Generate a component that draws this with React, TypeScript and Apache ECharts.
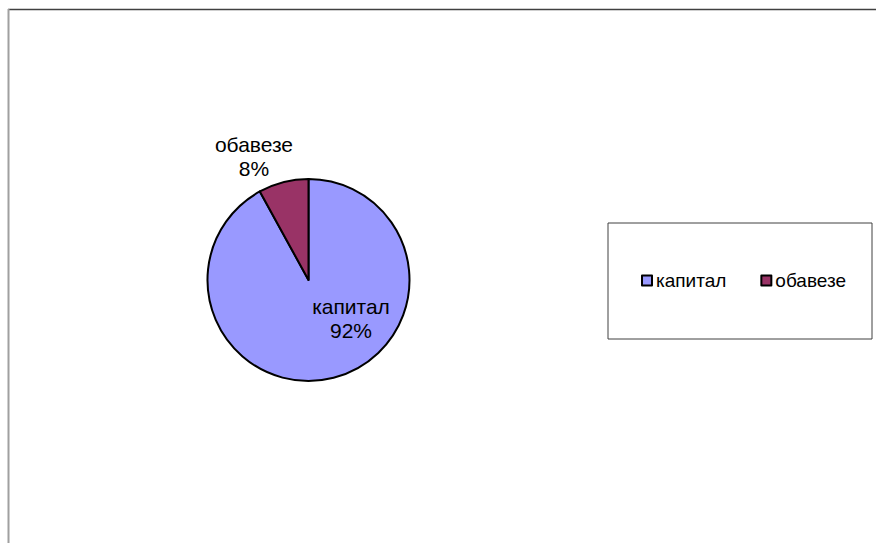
import React, { useEffect, useRef } from "react";
import * as echarts from "echarts";

const categories = ["капитал", "обавезе"];
const values = [92, 8];
const colors = ["#9999FF", "#993366"];
const labelCenters = [
  [351, 318],
  [254, 156],
];

const FONT = "'Liberation Sans', Arial, sans-serif";

export default function App() {
  const ref = useRef<HTMLDivElement>(null);
  useEffect(() => {
    document.body.style.margin = "0";
    const chart = echarts.init(ref.current!, null, { renderer: "svg" });
    chart.setOption({
      animation: false,
      backgroundColor: "#ffffff",
      textStyle: { fontFamily: FONT },
      graphic: [
        { type: "line", shape: { x1: 8, y1: 9.5, x2: 876, y2: 9.5 }, style: { stroke: "#404040", lineWidth: 1.5 } },
        { type: "line", shape: { x1: 8.5, y1: 9, x2: 8.5, y2: 543 }, style: { stroke: "#a0a0a0", lineWidth: 2 } },
      ],
      legend: {
        left: 608,
        top: 223,
        orient: "horizontal",
        data: categories,
        icon: "rect",
        itemWidth: 10,
        itemHeight: 10,
        itemGap: 34,
        padding: [48, 26, 49, 33],
        borderColor: "#404040",
        borderWidth: 1,
        borderRadius: 0,
        backgroundColor: "#ffffff",
        itemStyle: { borderColor: "#000", borderWidth: 2 },
        textStyle: { fontSize: 19, color: "#000", fontFamily: FONT, padding: [0, 0, 0, -1] },
      },
      series: [
        {
          type: "pie",
          center: [308.5, 280],
          radius: 101,
          startAngle: 90,
          clockwise: true,
          avoidLabelOverlap: false,
          itemStyle: { borderColor: "#000", borderWidth: 2 },
          label: {
            show: true,
            position: "inside",
            formatter: (p: any) => `${p.name}\n${Math.round(p.percent)}%`,
            fontSize: 21,
            lineHeight: 24,
            color: "#000",
            fontFamily: FONT,
            align: "center",
          },
          labelLine: { show: false },
          labelLayout: (p: any) => ({
            x: labelCenters[p.dataIndex][0],
            y: labelCenters[p.dataIndex][1],
            align: "center",
            verticalAlign: "middle",
          }),
          emphasis: { disabled: true },
          data: categories.map((c, i) => ({ name: c, value: values[i], itemStyle: { color: colors[i] } })),
        },
      ],
    });
    return () => chart.dispose();
  }, []);
  return <div ref={ref} style={{ width: 877, height: 543 }} />;
}
